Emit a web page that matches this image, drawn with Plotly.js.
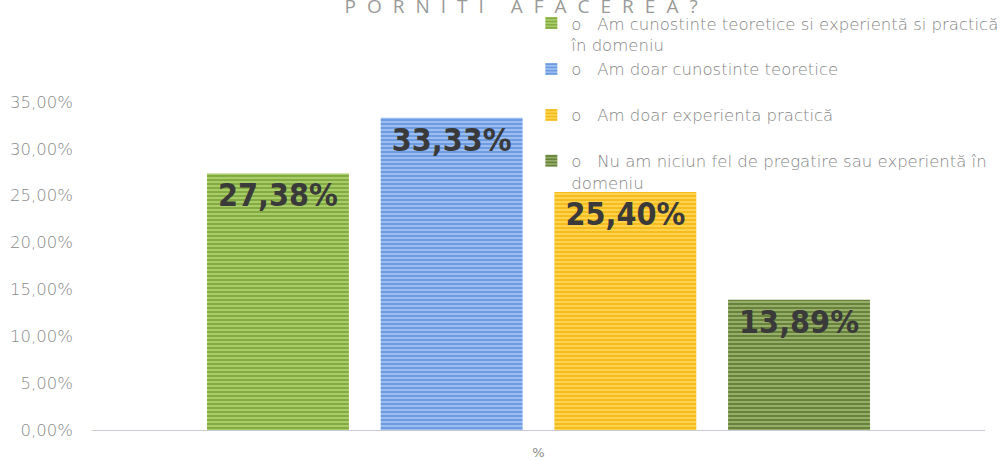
<!DOCTYPE html>
<html>
<head>
<meta charset="utf-8">
<script src="https://cdn.plot.ly/plotly-3.0.1.min.js"></script>
<style>html,body{margin:0;padding:0;background:#fff;}#chart{width:1007px;height:461px;}</style>
</head>
<body>
<div id="chart"></div>
<script>
const category = ["%"];
const seriesNames = [
  "o\u00a0\u00a0\u00a0Am cunostinte teoretice si experientă si practică<br>în domeniu",
  "o\u00a0\u00a0\u00a0Am doar cunostinte teoretice<br> ",
  "o\u00a0\u00a0\u00a0Am doar experienta practică<br> ",
  "o\u00a0\u00a0\u00a0Nu am niciun fel de pregatire sau experientă în<br>domeniu"
];
const seriesValues = [27.38, 33.33, 25.40, 13.89];
const titleText = "PORNITI AFACEREA?";

const bgColors = ["#a9cc6a", "#9cbdf0", "#fcd24e", "#97ad6c"];
const fgColors = ["#7fa83c", "#6a98e0", "#f4bb17", "#617e34"];

const traces = seriesNames.map((name, i) => ({
  type: "bar",
  name: name,
  x: category,
  y: [seriesValues[i]],
  legendgroup: "g" + i,
  marker: {
    color: bgColors[i],
    pattern: {shape: "-", size: 4, solidity: 0.45, fgcolor: fgColors[i], bgcolor: bgColors[i], fillmode: "replace"},
    line: {width: 0}
  },
  texttemplate: "%{y:.2f}%",
  textposition: "inside",
  insidetextanchor: "end",
  textangle: 0,
  constraintext: "none",
  textfont: {family: "Liberation Sans Narrow, DejaVu Sans Condensed, sans-serif", size: 32, color: "#3a3a3a", weight: "bold"},
  hoverinfo: "skip"
}));

const layout = {
  width: 1007, height: 461,
  margin: {l: 92, r: 22, t: 102, b: 31, autoexpand: false},
  paper_bgcolor: "#ffffff",
  plot_bgcolor: "#ffffff",
  separators: ",.",
  barmode: "group",
  bargap: 0.222,
  bargroupgap: 0.183,
  font: {family: "DejaVu Sans, sans-serif", color: "#7f7f7f"},
  xaxis: {
    type: "category",
    showline: true, linecolor: "#c9c9d6", linewidth: 1,
    ticks: "", showgrid: false,
    tickfont: {size: 13, color: "#8a8a8a"},
    ticklabelstandoff: 10,
    automargin: false,
    fixedrange: true
  },
  yaxis: {
    range: [0, 35],
    tick0: 0, dtick: 5,
    tickformat: ".2f", ticksuffix: "%",
    showgrid: false, zeroline: false, showline: false,
    tickfont: {size: 16.5, color: "#8a8a8a", family: "DejaVu Sans, sans-serif", weight: 300},
    ticklabelstandoff: 18,
    automargin: false,
    fixedrange: true
  },
  showlegend: true,
  legend: {
    x: 0.492, y: 1.293, xanchor: "left", yanchor: "top",
    orientation: "v",
    traceorder: "grouped",
    tracegroupgap: 0,
    valign: "top",
    itemwidth: 30,
    font: {size: 16.5, color: "#858585", family: "DejaVu Sans, sans-serif", weight: 300},
    bgcolor: "rgba(0,0,0,0)"
  },
  annotations: [{
    xref: "paper", yref: "paper",
    x: 0.487, y: 1.293, xanchor: "center", yanchor: "middle",
    text: titleText, showarrow: false,
    font: {size: 19, color: "#9a9a9a", family: "Open Sans, Lato, sans-serif"}
  }]
};

Plotly.newPlot("chart", traces, layout, {displayModeBar: false, staticPlot: true}).then(() => {
  document.querySelectorAll("#chart .annotation-text").forEach(el => { el.style.letterSpacing = "11px"; });
});
</script>
</body>
</html>
